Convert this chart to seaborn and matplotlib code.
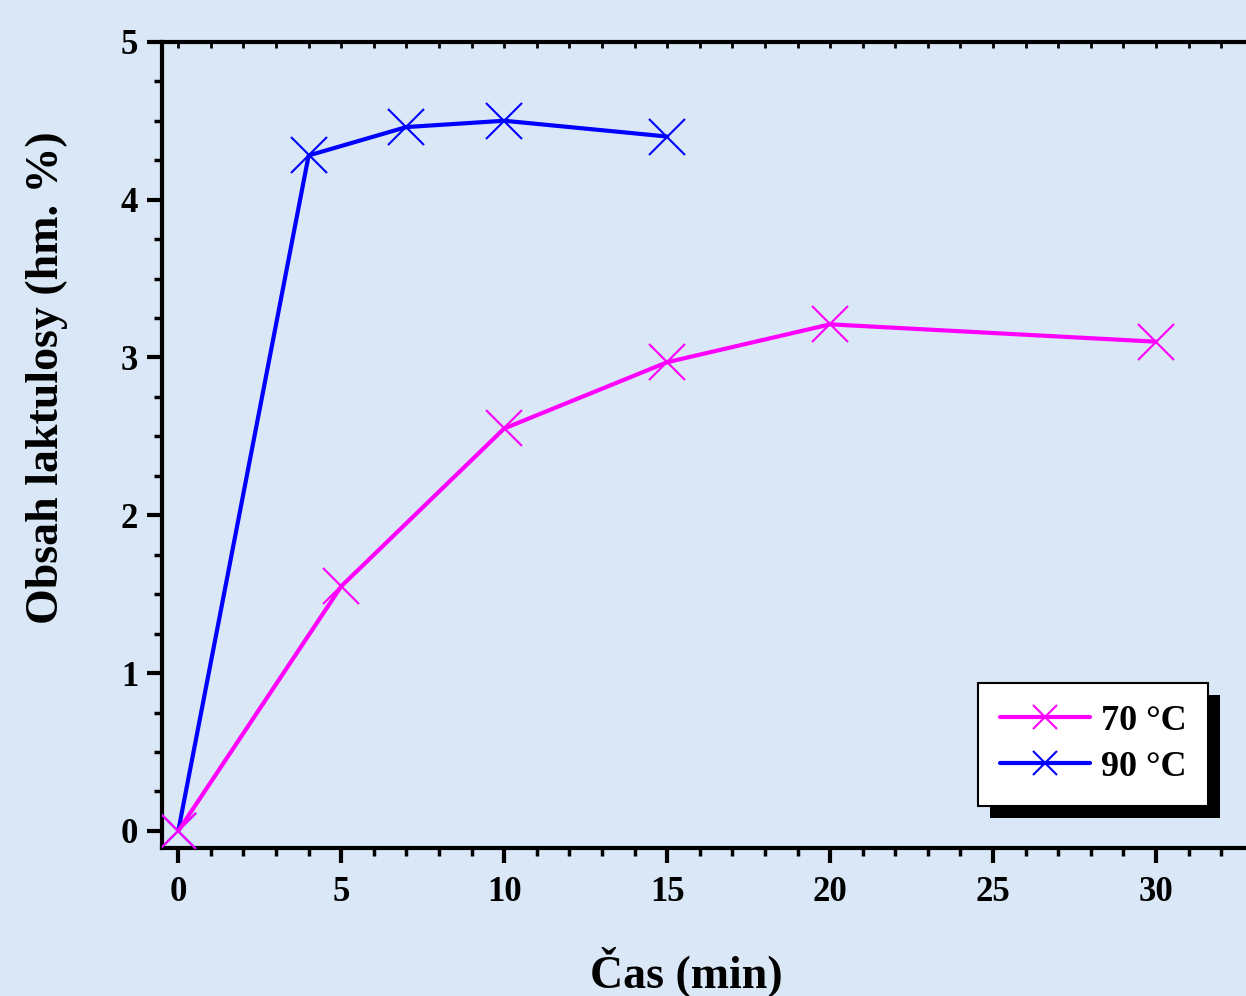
import matplotlib
matplotlib.use("Agg")
import matplotlib.pyplot as plt
import seaborn as sns
import pandas as pd
from matplotlib.patches import Rectangle
from matplotlib.ticker import MultipleLocator

# Data
cas_70 = [0, 5, 10, 15, 20, 30]
obsah_70 = [0.0, 1.55, 2.55, 2.97, 3.21, 3.10]
cas_90 = [0, 4, 7, 10, 15]
obsah_90 = [0.0, 4.28, 4.46, 4.50, 4.40]
serie = ["70 °C", "90 °C"]
barvy = ["#ff00ff", "#0000ff"]

sns.set_style("ticks")
plt.rcParams["font.family"] = ["Liberation Serif", "DejaVu Serif"]
plt.rcParams["font.weight"] = "bold"
plt.rcParams["text.color"] = "black"
plt.rcParams["axes.labelcolor"] = "black"
plt.rcParams["xtick.color"] = "black"
plt.rcParams["ytick.color"] = "black"

bg = "#d9e7f6"
fig = plt.figure(figsize=(12.46, 9.96), dpi=100, facecolor=bg)
ax = fig.add_axes([0.130, 0.1486, 0.870, 0.8094])
ax.set_facecolor(bg)

df70 = pd.DataFrame({"cas": cas_70, "obsah": obsah_70})
df90 = pd.DataFrame({"cas": cas_90, "obsah": obsah_90})

for d, lab, c, z in [(df90, serie[1], barvy[1], 3), (df70, serie[0], barvy[0], 4)]:
    sns.lineplot(data=d, x="cas", y="obsah", ax=ax, color=c, label=lab,
                 linewidth=3, marker="x", markersize=26, markeredgewidth=1.5,
                 markeredgecolor=c, zorder=z)

ax.set_xlim(-0.5, 32.76)
ax.set_ylim(-0.108, 5)
ax.xaxis.set_major_locator(MultipleLocator(5))
ax.xaxis.set_minor_locator(MultipleLocator(1))
ax.yaxis.set_major_locator(MultipleLocator(1))
ax.yaxis.set_minor_locator(MultipleLocator(0.25))

for s in ax.spines.values():
    s.set_linewidth(3)
    s.set_color("black")
ax.spines["right"].set_visible(False)

ax.tick_params(axis="both", which="major", direction="out", length=11, width=3,
               labelsize=25, colors="black")
ax.tick_params(axis="x", which="major", pad=9)
ax.tick_params(axis="y", which="major", pad=6)
ax.tick_params(axis="both", which="minor", direction="out", length=6, width=2.5,
               colors="black")
for lbl in ax.get_xticklabels() + ax.get_yticklabels():
    lbl.set_fontweight("bold")

# small inward ticks along the top frame
top = ax.secondary_xaxis("top")
top.xaxis.set_major_locator(MultipleLocator(1))
top.tick_params(axis="x", direction="in", length=4, width=2, labeltop=False,
                colors="black")
top.spines["top"].set_visible(False)

ax.set_xlabel("Čas (min)", fontsize=33, fontweight="bold")
ax.set_ylabel("Obsah laktulosy (hm. %)", fontsize=33, fontweight="bold")
ax.xaxis.set_label_coords(0.484, -0.122)
ax.yaxis.set_label_coords(-0.087, 0.584)

# legend with solid shadow
handles, labels = ax.get_legend_handles_labels()
order = [labels.index(s) for s in serie]
leg = ax.legend([handles[i] for i in order], [labels[i] for i in order],
                loc="upper right", bbox_to_anchor=(0.9695, 0.3142),
                bbox_transform=fig.transFigure, borderaxespad=0, fancybox=False,
                framealpha=1, edgecolor="black", handlelength=2.5, markerscale=0.65,
                borderpad=0.6, labelspacing=0.35, handletextpad=0.3,
                prop={"weight": "bold", "size": 26})
leg.get_frame().set_linewidth(1.5)
leg.set_zorder(10)

fig.canvas.draw()
bb = leg.get_window_extent().transformed(fig.transFigure.inverted())
dx, dy = 12 / 1246, 12 / 996
fig.patches.append(Rectangle((bb.x0 + dx, bb.y0 - dy), bb.width, bb.height,
                             transform=fig.transFigure, facecolor="black",
                             edgecolor="none", zorder=1))
ax.set_zorder(2)
ax.patch.set_alpha(0)

fig.savefig("out.png", dpi=100, facecolor=bg)
